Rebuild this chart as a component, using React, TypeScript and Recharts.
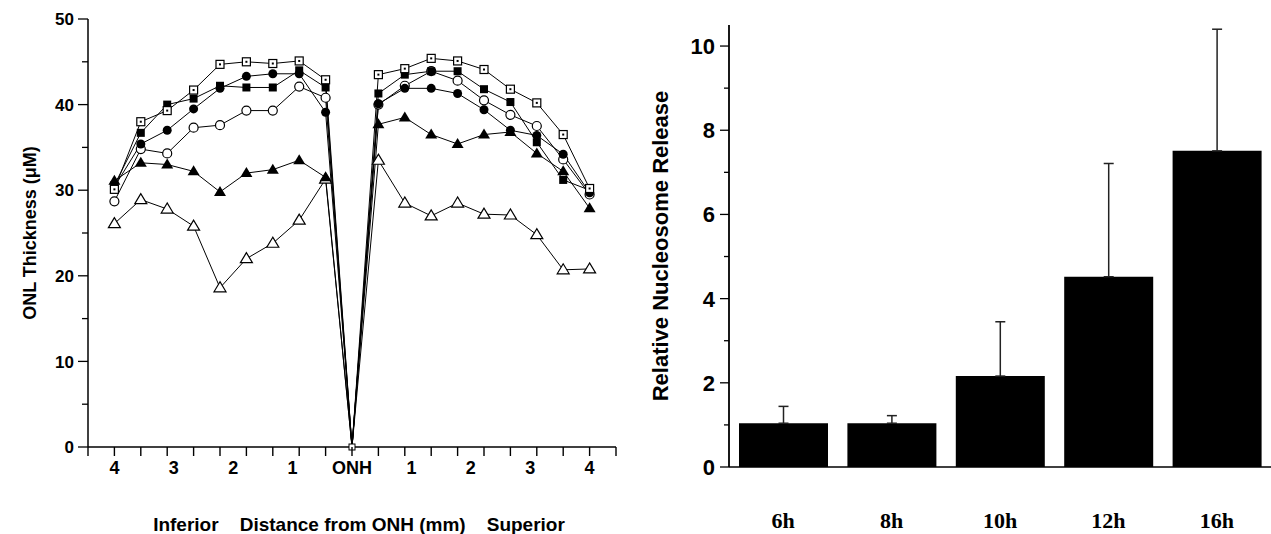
import React from 'react';
import { LineChart, Line, XAxis, YAxis, BarChart, Bar, ErrorBar } from 'recharts';

// left panel: ONL thickness along the vertical meridian
const positions = [0, 1, 2, 3, 4, 5, 6, 7, 8, 9, 10, 11, 12, 13, 14, 15, 16, 17, 18];
const dottedSquare = [30.1, 38.0, 39.3, 41.7, 44.7, 45.0, 44.8, 45.1, 42.9, 0, 43.5, 44.2, 45.4, 45.1, 44.1, 41.8, 40.2, 36.5, 30.2];
const filledSquare = [30.6, 36.7, 40.0, 40.7, 42.2, 42.0, 42.0, 44.0, 42.0, 0, 41.3, 43.5, 43.9, 43.9, 41.8, 40.3, 35.6, 31.2, 30.0];
const filledCircle = [30.4, 35.4, 37.0, 39.5, 41.9, 43.3, 43.6, 43.6, 39.1, 0, 40.1, 41.9, 41.9, 41.3, 39.4, 37.0, 36.4, 34.2, 29.7];
const openCircle = [28.7, 34.8, 34.3, 37.3, 37.6, 39.3, 39.3, 42.1, 40.8, 0, 40.0, 42.2, 43.9, 42.8, 40.5, 38.8, 37.5, 33.6, 29.5];
const filledTriangle = [31.1, 33.2, 33.0, 32.2, 29.8, 32.0, 32.4, 33.5, 31.5, 0, 37.7, 38.5, 36.5, 35.4, 36.5, 36.8, 34.3, 32.2, 27.9];
const openTriangle = [26.1, 28.9, 27.8, 25.8, 18.6, 22.0, 23.8, 26.5, 31.3, 0, 33.5, 28.5, 27.0, 28.5, 27.2, 27.1, 24.8, 20.7, 20.8];

// tick marks at every sample, labels at each mm
const markTicks = [-1, 0, 1, 2, 3, 4, 5, 6, 7, 8, 9, 10, 11, 12, 13, 14, 15, 16, 17, 18, 19];
const distanceTicks = [0, 2.25, 4.5, 6.75, 9, 11.25, 13.5, 15.75, 18];
const distanceLabels = ['4', '3', '2', '1', 'ONH', '1', '2', '3', '4'];
const thicknessTicks = [0, 5, 10, 15, 20, 25, 30, 35, 40, 45, 50];

// right panel: nucleosome release over time
const times = ['6h', '8h', '10h', '12h', '16h'];
const release = [1.04, 1.04, 2.16, 4.52, 7.51];
const releaseSd = [0.4, 0.18, 1.29, 2.69, 2.89];
const releaseTicks = [0, 1, 2, 3, 4, 5, 6, 7, 8, 9, 10];

const SANS = '"Liberation Sans", Arial, Helvetica, sans-serif';
const SERIF = '"Liberation Serif", "Times New Roman", serif';
const NB = '\u00a0';

const allXTicks = Array.from(new Set([...markTicks, ...distanceTicks])).sort((a, b) => a - b);

const lineData = positions.map((p, i) => ({
  pos: p,
  dottedSquare: dottedSquare[i],
  filledSquare: filledSquare[i],
  filledCircle: filledCircle[i],
  openCircle: openCircle[i],
  filledTriangle: filledTriangle[i],
  openTriangle: openTriangle[i],
}));

const barData = times.map((t, i) => ({
  time: t,
  value: release[i],
  err: [0, releaseSd[i]],
}));

type Marker = 'dotSquare' | 'square' | 'circle' | 'openCircle' | 'triangle' | 'openTriangle';

function makeDot(kind: Marker) {
  return (props: any) => {
    const { cx, cy, index } = props;
    const key = `${kind}-${index}`;
    if (cx == null || cy == null) return <g key={key} />;
    // at the nerve head only one small marker is visible
    if (index === 9) {
      if (kind !== 'dotSquare') return <g key={key} />;
      return <rect key={key} x={cx - 3} y={cy - 3} width={6} height={6} fill='#fff' stroke='#000' strokeWidth={1} />;
    }
    switch (kind) {
      case 'dotSquare':
        return (
          <g key={key}>
            <rect x={cx - 4} y={cy - 4} width={8} height={8} fill='#fff' stroke='#000' strokeWidth={1.2} />
            <rect x={cx - 1} y={cy - 1} width={2} height={2} fill='#000' />
          </g>
        );
      case 'square':
        return <rect key={key} x={cx - 4} y={cy - 4} width={8} height={8} fill='#000' />;
      case 'circle':
        return <circle key={key} cx={cx} cy={cy} r={4.5} fill='#000' />;
      case 'openCircle':
        return <circle key={key} cx={cx} cy={cy} r={4.5} fill='#fff' stroke='#000' strokeWidth={1.2} />;
      case 'triangle':
        return <polygon key={key} points={`${cx},${cy - 6} ${cx - 6},${cy + 4} ${cx + 6},${cy + 4}`} fill='#000' />;
      default:
        return (
          <polygon
            key={key}
            points={`${cx},${cy - 6} ${cx - 6},${cy + 4} ${cx + 6},${cy + 4}`}
            fill='#fff'
            stroke='#000'
            strokeWidth={1.2}
          />
        );
    }
  };
}

function DistanceTick(props: any) {
  const { x, y, payload } = props;
  const v = payload.value;
  const li = distanceTicks.indexOf(v);
  return (
    <g>
      {Number.isInteger(v) && <line x1={x} y1={y} x2={x} y2={y + 9} stroke='#000' strokeWidth={1.4} />}
      {li >= 0 && (
        <text x={x} y={y + 14} dy='0.71em' textAnchor='middle' fontFamily={SANS} fontWeight='bold' fontSize={18} fill='#000'>
          {distanceLabels[li]}
        </text>
      )}
    </g>
  );
}

function ThicknessTick(props: any) {
  const { x, y, payload } = props;
  const major = payload.value % 10 === 0;
  return (
    <g>
      <line x1={x - (major ? 10 : 6)} y1={y} x2={x} y2={y} stroke='#000' strokeWidth={1.3} />
      {major && (
        <text x={x - 14} y={y} dy='0.36em' textAnchor='end' fontFamily={SANS} fontWeight='bold' fontSize={17} fill='#000'>
          {payload.value}
        </text>
      )}
    </g>
  );
}

function ReleaseTick(props: any) {
  const { x, y, payload } = props;
  const major = payload.value % 2 === 0;
  return (
    <g>
      <line x1={x - (major ? 9 : 5)} y1={y} x2={x} y2={y} stroke='#000' strokeWidth={1.3} />
      {major && (
        <text x={x - 14} y={y} dy='0.36em' textAnchor='end' fontFamily={SANS} fontWeight='bold' fontSize={22} fill='#000'>
          {payload.value}
        </text>
      )}
    </g>
  );
}

const series: { key: keyof (typeof lineData)[number]; marker: Marker }[] = [
  { key: 'openTriangle', marker: 'openTriangle' },
  { key: 'filledTriangle', marker: 'triangle' },
  { key: 'openCircle', marker: 'openCircle' },
  { key: 'filledCircle', marker: 'circle' },
  { key: 'filledSquare', marker: 'square' },
  { key: 'dottedSquare', marker: 'dotSquare' },
];

export default function App() {
  return (
    <div style={{ position: 'absolute', left: 0, top: 0, width: 1271, height: 534, background: '#fff' }}>
      <div style={{ position: 'absolute', left: 0, top: 0 }}>
        <LineChart width={640} height={534} data={lineData} margin={{ top: 19, right: 24, bottom: 0, left: 0 }}>
          <XAxis
            dataKey='pos'
            type='number'
            domain={[-1, 19]}
            ticks={allXTicks}
            interval={0}
            tickLine={false}
            tickSize={0}
            tickMargin={0}
            tick={<DistanceTick />}
            height={87}
            stroke='#000'
            strokeWidth={1.5}
            label={{
              value: `Inferior${NB.repeat(4)}Distance from ONH (mm)${NB.repeat(4)}Superior`,
              position: 'insideBottom',
              offset: 3,
              dx: 7,
              style: { fill: '#000', fontFamily: SANS, fontWeight: 'bold', fontSize: 19 },
            }}
          />
          <YAxis
            type='number'
            domain={[0, 50]}
            ticks={thicknessTicks}
            interval={0}
            width={88}
            tickSize={0}
            tickMargin={0}
            tickLine={false}
            tick={<ThicknessTick />}
            stroke='#000'
            strokeWidth={1.5}
            label={{
              value: 'ONL Thickness (\u03bcM)',
              angle: -90,
              position: 'insideLeft',
              offset: 30,
              style: { textAnchor: 'middle', fill: '#000', fontFamily: SANS, fontWeight: 'bold', fontSize: 18 },
            }}
          />
          {series.map(s => (
            <Line
              key={s.key}
              dataKey={s.key}
              stroke='#000'
              strokeWidth={1}
              dot={makeDot(s.marker)}
              activeDot={false}
              isAnimationActive={false}
            />
          ))}
        </LineChart>
      </div>
      <div style={{ position: 'absolute', left: 640, top: 0 }}>
        <BarChart width={631} height={534} data={barData} margin={{ top: 25, right: 0, bottom: 0, left: 0 }}>
          <XAxis
            dataKey='time'
            height={67}
            tickLine={false}
            tickSize={0}
            tickMargin={45}
            stroke='#000'
            strokeWidth={1.5}
            tick={{ fill: '#000', fontFamily: SERIF, fontWeight: 'bold', fontSize: 22 }}
          />
          <YAxis
            type='number'
            domain={[0, 10.5]}
            ticks={releaseTicks}
            interval={0}
            width={89}
            tickSize={0}
            tickMargin={0}
            tickLine={false}
            tick={<ReleaseTick />}
            stroke='#000'
            strokeWidth={1.8}
            label={{
              value: 'Relative Nucleosome Release',
              angle: -90,
              position: 'insideLeft',
              offset: 20,
              style: { textAnchor: 'middle', fill: '#000', fontFamily: SANS, fontWeight: 'bold', fontSize: 22 },
            }}
          />
          <Bar dataKey='value' fill='#000' barSize={89} isAnimationActive={false}>
            <ErrorBar dataKey='err' width={5} stroke='#222' strokeWidth={1.5} direction='y' isAnimationActive={false} />
          </Bar>
        </BarChart>
      </div>
    </div>
  );
}
